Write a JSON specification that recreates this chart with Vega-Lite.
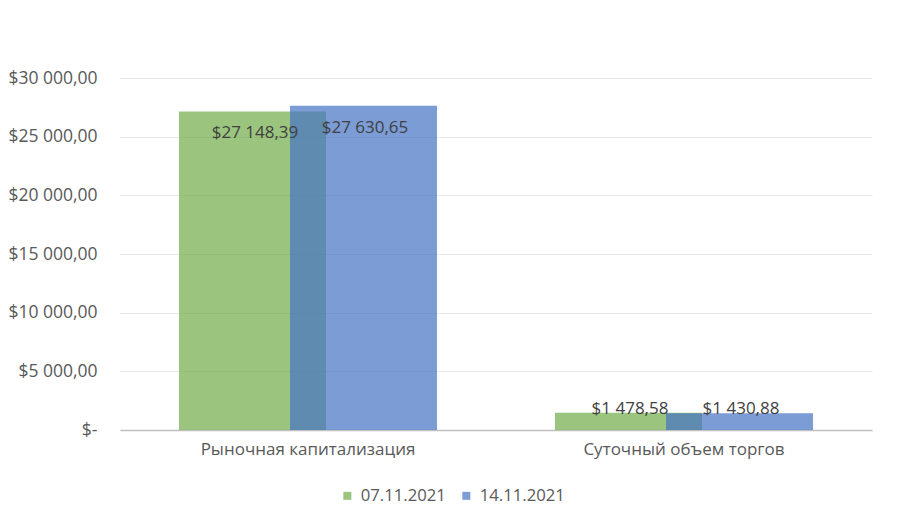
{
  "$schema": "https://vega.github.io/schema/vega-lite/v6.json",
  "autosize": {"type": "none"},
  "width": 752,
  "height": 352,
  "padding": {"left": 120, "top": 78, "right": 32, "bottom": 97},
  "background": "white",
  "data": {
    "values": [
      {"category": "Рыночная капитализация", "date": "07.11.2021", "value": 27148.39},
      {"category": "Рыночная капитализация", "date": "14.11.2021", "value": 27630.65},
      {"category": "Суточный объем торгов", "date": "07.11.2021", "value": 1478.58},
      {"category": "Суточный объем торгов", "date": "14.11.2021", "value": 1430.88}
    ]
  },
  "encoding": {
    "x": {
      "field": "category",
      "type": "nominal",
      "sort": null,
      "scale": {"paddingInner": 0, "paddingOuter": 0},
      "axis": {
        "title": null,
        "labelAngle": 0,
        "labelLimit": 0,
        "labelFont": "Open Sans",
        "labelFontSize": 17,
        "labelColor": "#595959",
        "labelPadding": 11,
        "ticks": false,
        "domainColor": "#BFBFBF",
        "domainWidth": 1.3,
        "grid": false
      }
    },
    "y": {
      "field": "value",
      "type": "quantitative",
      "scale": {"domain": [0, 30000], "nice": false},
      "axis": {
        "title": null,
        "values": [0, 5000, 10000, 15000, 20000, 25000, 30000],
        "format": "$,.2f",
        "labelExpr": "datum.value == 0 ? '$-' : datum.label",
        "labelFont": "Open Sans",
        "labelFontSize": 17.5,
        "labelColor": "#595959",
        "labelPadding": 23,
        "ticks": false,
        "domain": false,
        "grid": true,
        "gridColor": "#E8E8E8",
        "gridWidth": 1
      }
    },
    "color": {
      "field": "date",
      "type": "nominal",
      "scale": {"domain": ["07.11.2021", "14.11.2021"], "range": ["#70AD47", "#4472C4"]},
      "legend": {
        "title": null,
        "orient": "none",
        "direction": "horizontal",
        "legendX": 219,
        "legendY": 409,
        "symbolType": "square",
        "symbolSize": 64,
        "symbolOpacity": 0.7,
        "symbolStrokeWidth": 0,
        "labelFont": "Open Sans",
        "labelFontSize": 16.7,
        "labelColor": "#595959",
        "labelOffset": 5,
        "columnPadding": 12
      }
    }
  },
  "layer": [
    {
      "transform": [{"filter": "datum.date == '07.11.2021'"}],
      "mark": {"type": "bar", "width": 147, "xOffset": -55.5, "opacity": 0.7}
    },
    {
      "transform": [{"filter": "datum.date == '14.11.2021'"}],
      "mark": {"type": "bar", "width": 147, "xOffset": 55.5, "opacity": 0.7}
    },
    {
      "transform": [{"filter": "datum.date == '07.11.2021' && datum.value > 10000"}],
      "mark": {"type": "text", "xOffset": -53, "dy": 22, "baseline": "middle", "font": "Open Sans", "fontSize": 17, "color": "#404040"},
      "encoding": {"text": {"field": "value", "type": "quantitative", "format": "$,.2f"}, "color": {"value": "#404040"}}
    },
    {
      "transform": [{"filter": "datum.date == '14.11.2021' && datum.value > 10000"}],
      "mark": {"type": "text", "xOffset": 57, "dy": 22, "baseline": "middle", "font": "Open Sans", "fontSize": 17, "color": "#404040"},
      "encoding": {"text": {"field": "value", "type": "quantitative", "format": "$,.2f"}, "color": {"value": "#404040"}}
    },
    {
      "transform": [{"filter": "datum.date == '07.11.2021' && datum.value < 10000"}],
      "mark": {"type": "text", "xOffset": -54, "dy": -4, "baseline": "middle", "font": "Open Sans", "fontSize": 17, "color": "#404040"},
      "encoding": {"text": {"field": "value", "type": "quantitative", "format": "$,.2f"}, "color": {"value": "#404040"}}
    },
    {
      "transform": [{"filter": "datum.date == '14.11.2021' && datum.value < 10000"}],
      "mark": {"type": "text", "xOffset": 57, "dy": -4, "baseline": "middle", "font": "Open Sans", "fontSize": 17, "color": "#404040"},
      "encoding": {"text": {"field": "value", "type": "quantitative", "format": "$,.2f"}, "color": {"value": "#404040"}}
    }
  ],
  "config": {
    "locale": {"number": {"decimal": ",", "thousands": " ", "grouping": [3], "currency": ["$", ""]}},
    "view": {"stroke": null}
  }
}
